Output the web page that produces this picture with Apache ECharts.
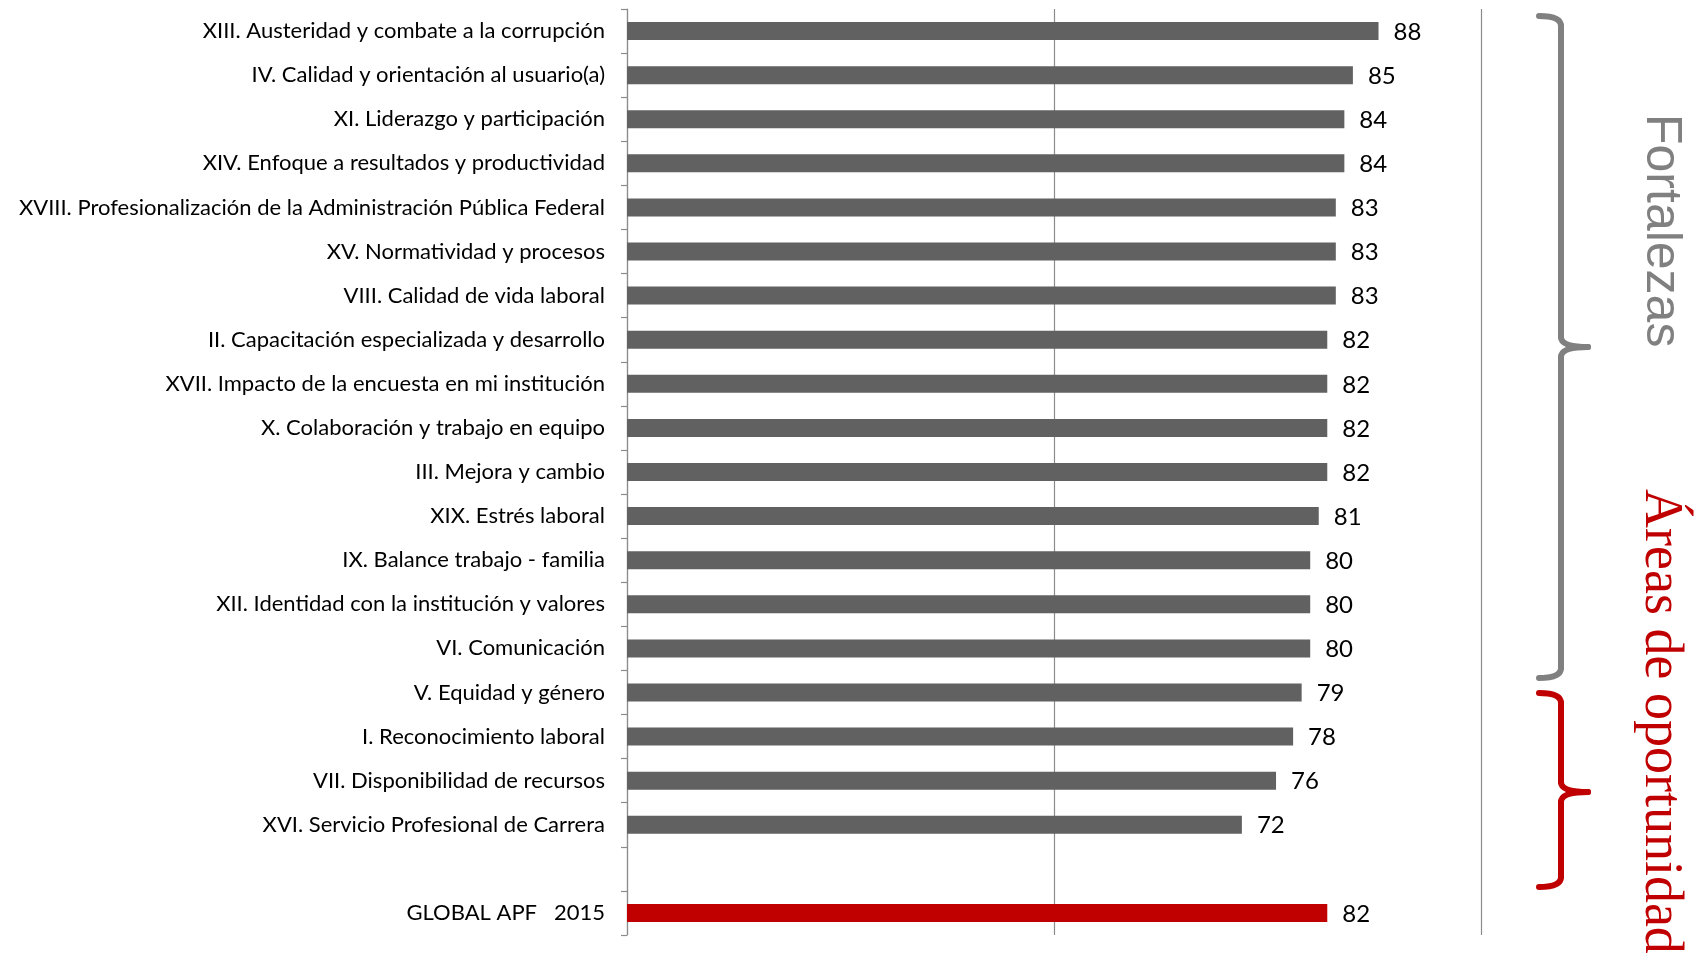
<!DOCTYPE html>
<html>
<head>
<meta charset="utf-8">
<script src="https://cdn.jsdelivr.net/npm/echarts@6/dist/echarts.min.js"></script>
<style>
  html, body { margin: 0; padding: 0; background: #ffffff; }
  #chart { width: 1705px; height: 955px; }
</style>
</head>
<body>
<div id="chart"></div>
<script>
// Factor names, top to bottom; the empty entry leaves a gap before the global score
const categories = [
  'XIII. Austeridad y combate a la corrupción',
  'IV. Calidad y orientación al usuario(a)',
  'XI. Liderazgo y participación',
  'XIV. Enfoque a resultados y productividad',
  'XVIII. Profesionalización de la Administración Pública Federal',
  'XV. Normatividad y procesos',
  'VIII. Calidad de vida laboral',
  'II. Capacitación especializada y desarrollo',
  'XVII. Impacto de la encuesta en mi institución',
  'X. Colaboración y trabajo en equipo',
  'III. Mejora y cambio',
  'XIX. Estrés laboral',
  'IX. Balance trabajo - familia',
  'XII. Identidad con la institución y valores',
  'VI. Comunicación',
  'V. Equidad y género',
  'I. Reconocimiento laboral',
  'VII. Disponibilidad de recursos',
  'XVI. Servicio Profesional de Carrera',
  '',
  'GLOBAL APF   2015'
];

// Scores per factor (null for the spacer row)
const scores = [88, 85, 84, 84, 83, 83, 83, 82, 82, 82, 82, 81, 80, 80, 80, 79, 78, 76, 72, null, 82];

// Index of the global score row
const globalIndex = 20;

// Value axis ticks
const axisMin = 0;
const axisMax = 100;
const axisStep = 50;

const barData = scores.map((v, i) => (v === null ? '-' : {
  value: v,
  itemStyle: { color: i === globalIndex ? '#C00000' : '#616161' }
}));

// A right-facing curly brace built from straight and curved strokes
function brace(top, tip, bottom, color) {
  const x0 = 1539, x1 = 1561, x2 = 1588, r = 10;
  const style = { fill: 'none', stroke: color, lineWidth: 6, lineCap: 'round' };
  const curve = (ax, ay, cx, cy, bx, by) => ({
    type: 'bezierCurve',
    shape: { x1: ax, y1: ay, cpx1: cx, cpy1: cy, x2: bx, y2: by },
    style: style
  });
  const line = (ax, ay, bx, by) => ({
    type: 'line',
    shape: { x1: ax, y1: ay, x2: bx, y2: by },
    style: style
  });
  return {
    type: 'group',
    children: [
      curve(x0, top, x1, top, x1, top + r),
      line(x1, top + r, x1, tip - r),
      curve(x1, tip - r, x1, tip, x2, tip),
      curve(x2, tip, x1, tip, x1, tip + r),
      line(x1, tip + r, x1, bottom - r),
      curve(x1, bottom - r, x1, bottom, x0, bottom)
    ]
  };
}

const chart = echarts.init(document.getElementById('chart'), null, { renderer: 'canvas' });

const labelFont = 'Lato, "Open Sans", sans-serif';

chart.setOption({
  animation: false,
  backgroundColor: '#ffffff',
  grid: { left: 627, right: 224, top: 9, bottom: 20, containLabel: false },
  xAxis: {
    type: 'value',
    min: axisMin,
    max: axisMax,
    interval: axisStep,
    axisLabel: { show: false },
    axisTick: { show: false },
    axisLine: { show: false },
    splitLine: { show: true, lineStyle: { color: '#8c8c8c', width: 1.2 } }
  },
  yAxis: {
    type: 'category',
    data: categories,
    inverse: true,
    axisLine: { show: true, lineStyle: { color: '#8c8c8c', width: 1.2 } },
    axisTick: { show: true, length: 6, lineStyle: { color: '#8c8c8c', width: 1.2 } },
    axisLabel: {
      margin: 22,
      color: '#000000',
      fontFamily: labelFont,
      fontSize: 22
    }
  },
  series: [{
    type: 'bar',
    data: barData,
    barWidth: 18,
    label: {
      show: true,
      position: 'right',
      distance: 15,
      color: '#000000',
      fontFamily: labelFont,
      fontSize: 24,
      offset: [0, 1]
    }
  }],
  graphic: [
    // grey brace grouping the strengths
    brace(16, 347, 678, '#808080'),
    {
      type: 'text',
      x: 1661,
      y: 114,
      rotation: -Math.PI / 2,
      style: {
        text: 'Fortalezas',
        fill: '#808080',
        font: '50px "Liberation Sans", Arial, sans-serif',
        textAlign: 'left',
        textVerticalAlign: 'middle'
      }
    },
    // red brace grouping the improvement areas
    brace(693, 792, 887, '#C00000'),
    {
      type: 'text',
      x: 1660,
      y: 489,
      rotation: -Math.PI / 2,
      style: {
        text: 'Áreas de oportunidad',
        fill: '#C00000',
        font: '54px "Liberation Serif", "Times New Roman", serif',
        textAlign: 'left',
        textVerticalAlign: 'middle'
      }
    }
  ]
});
</script>
</body>
</html>
